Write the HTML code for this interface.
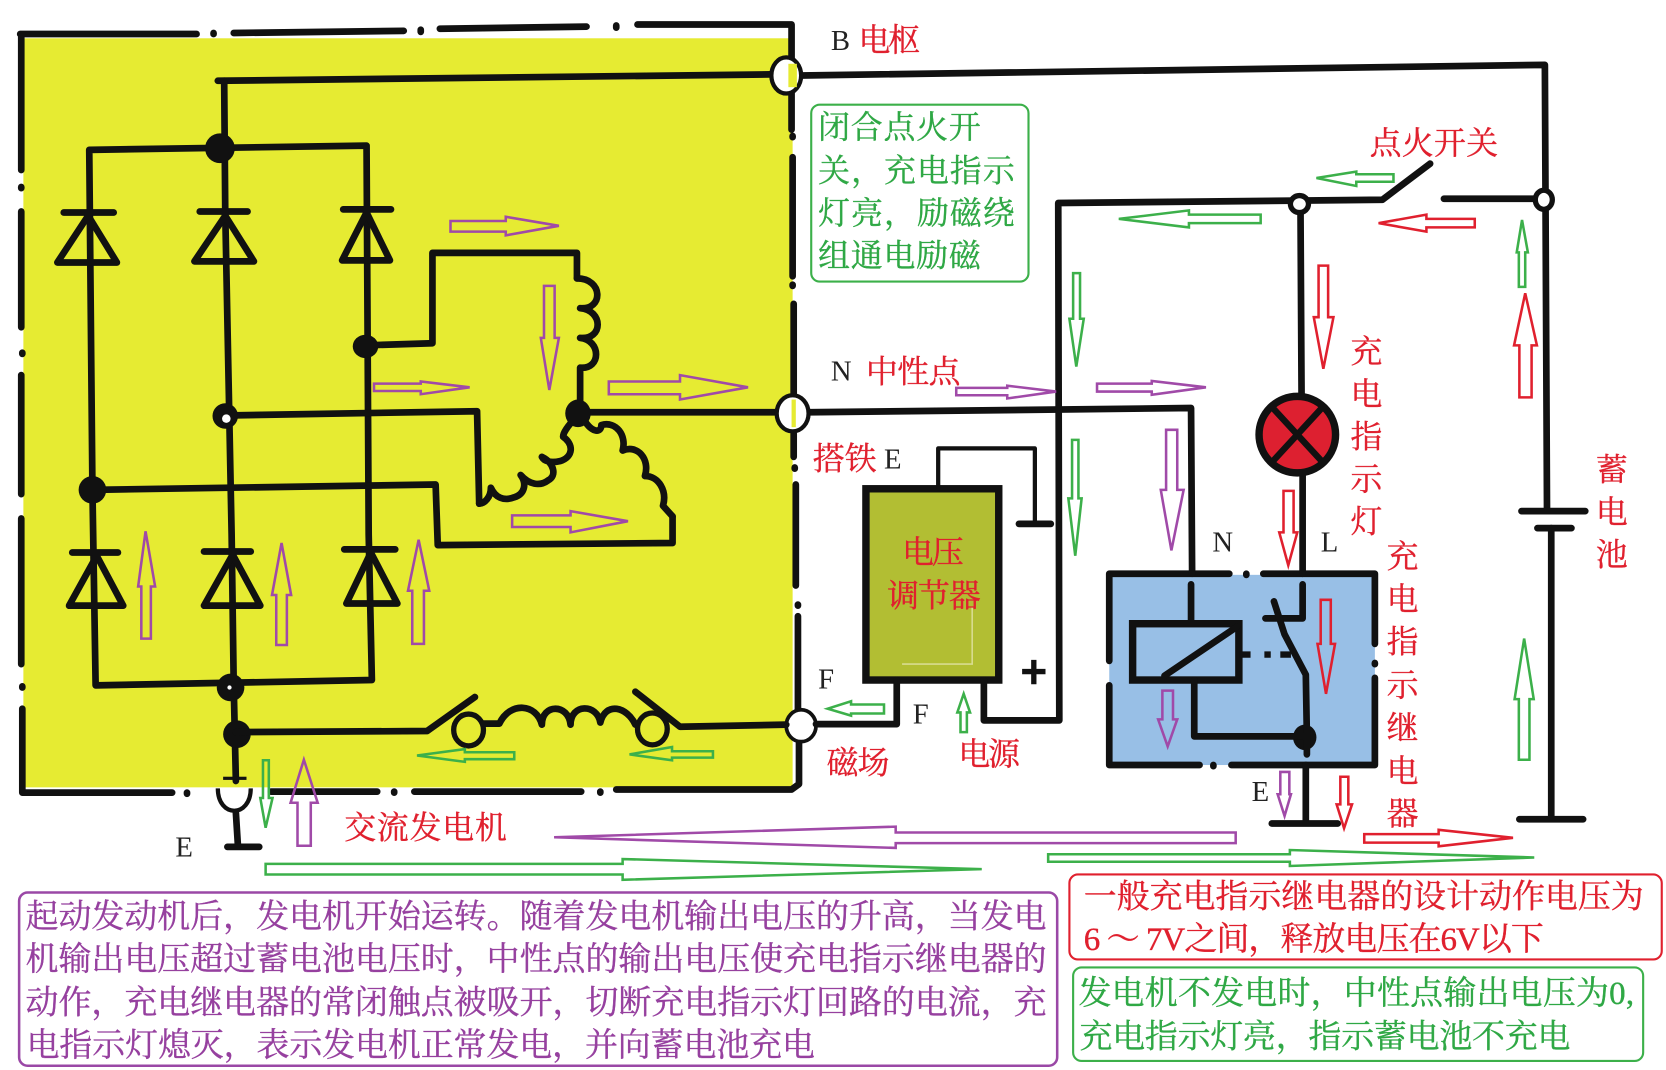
<!DOCTYPE html>
<html><head><meta charset="utf-8"><style>
html,body{margin:0;padding:0;background:#fff}
svg{display:block}
text{font-family:"Liberation Serif","Noto Serif CJK SC",serif}
.r{fill:#e0202e;stroke:#e0202e;stroke-width:.35}.p{fill:#96409f;stroke:#96409f;stroke-width:.35}.g{fill:#2fa845;stroke:#2fa845;stroke-width:.35}.k{fill:#222}
.w{fill:none;stroke:#111;stroke-width:6.3;stroke-linejoin:round;stroke-linecap:round}
.pa{fill:none;stroke:#a04aa8;stroke-width:2.4}
.ga{fill:none;stroke:#3cb04a;stroke-width:2.4}
.ra{fill:none;stroke:#e0202e;stroke-width:2.4}
</style></head><body>
<svg xmlns="http://www.w3.org/2000/svg" width="1666" height="1070" viewBox="0 0 1568 1007">
<rect width="1568" height="1007" fill="#fff"/>
<rect x="22" y="36" width="724" height="705" fill="#e6eb32"/>
<rect x="1044" y="541" width="250" height="179" fill="#98bfe6"/>
<rect x="815" y="460" width="125" height="180" fill="#b2be33"/>
<path d="M915 571V625H849" fill="none" stroke="#d8dc90" stroke-width="1.5"/>

<!-- generator frame -->
<path class="w" d="M19 32H185M201 31V32M220 31L380 29M396 28V30M414 27L552 25M580 24V26M600 23H745V122M746 128V129M746 148V260M746 268V269M747 286V372M747 408V430M748 440V441M749 456V551M751 569V570M751 580V667M752 699V738L745 743H580M565 745V746M547 745H390M371 745V746M355 745H255M176 746V747M162 746H21V667M21 646V647M20 625V503L20 488V489M20 465V353M21 332V333M20 308V199M20 176V177M20 160V32"/>
<!-- relay frame -->
<path class="w" d="M1157 540H1044V622M1044 645V720H1129M1142 720V721M1159 720H1294V638M1294 624V625M1294 606V540H1189M1173 540V541"/>

<!-- rectifier wires -->
<path class="w" d="M205 76L725 70M755 71L1454 61L1456 480M1460 497V770"/>
<path class="w" d="M211 76L212 200L218 503L220 647L222 735"/>
<path class="w" d="M84 141L345 137L347 503L350 640L90 645L87 461L84 141"/>
<path class="w" d="M344 325L407 323V238H543V262"/>
<path class="w" d="M212 391L449 387L451 474"/>
<path class="w" d="M87 461L410 456L412 513L633 511V486"/>
<path class="w" d="M548 388H730M762 388L1121 384L1122 540"/>
<!-- coils -->
<path class="w" d="M543 262C568 262 568 292 546 290C568 292 568 320 546 318C566 320 566 348 546 346L546 388"/>
<path class="w" d="M543 392C533 402 530 408 530 411C540 418 540 430 527 434C518 436 512 434 510 430C522 436 524 448 516 452C508 458 498 456 490 447C496 455 494 465 484 468C474 472 466 468 462 459C462 468 456 474 451 474"/>
<path class="w" d="M548 392C556 408 566 408 566 400C580 396 590 410 586 424C600 418 612 432 607 448C620 448 628 462 624 476L633 486"/>
<!-- diodes -->
<g class="w">
<path d="M60 200H107M83 203L54 247H110Z"/>
<path d="M188 199H233M212 203L183 246H239Z"/>
<path d="M323 197H368M345 200L322 245H367Z"/>
<path d="M68 520H111M91 523L65 570H116Z"/>
<path d="M192 519H236M219 522L192 570H245Z"/>
<path d="M324 517H372M349 520L326 568H374Z"/>
</g>
<!-- nodes -->
<g fill="#111">
<ellipse cx="207" cy="139.5" rx="14" ry="14"/>
<ellipse cx="344" cy="326" rx="12" ry="11"/>
<ellipse cx="212" cy="391.5" rx="12" ry="12"/>
<ellipse cx="87" cy="461" rx="13" ry="13"/>
<ellipse cx="544" cy="389" rx="12" ry="13"/>
<ellipse cx="217" cy="647" rx="13" ry="13"/>
<ellipse cx="223" cy="691" rx="13" ry="13"/>
<ellipse cx="1228" cy="694" rx="11" ry="12"/>
</g>
<circle cx="213" cy="394" r="4" fill="#fff"/>
<circle cx="216" cy="647" r="2" fill="#fff"/>
<!-- terminals -->
<g fill="#fff" stroke="#111" stroke-width="4">
<ellipse cx="740" cy="71" rx="14" ry="17"/>
<ellipse cx="746" cy="389" rx="15" ry="17"/>
<ellipse cx="754" cy="683" rx="14" ry="15" stroke-width="3.5"/>
<path d="M205 742H236C236 770 205 770 205 742Z" stroke="none"/>
<path d="M205 742C205 770 236 770 236 742" fill="none"/>
</g>
<rect x="742" y="60" width="8" height="22" fill="#e6eb32"/>
<rect x="745" y="376" width="4" height="26" fill="#e6eb32"/>
<rect x="210" y="731" width="22" height="3" fill="#111"/>
<!-- E ground -->
<path class="w" d="M222 765L224 797M214 797H244"/>
<!-- field coil -->
<path class="w" d="M222 689L402 688L447 656M598 651L640 684L740 682"/>
<ellipse cx="441" cy="687" rx="14" ry="15" fill="none" stroke="#111" stroke-width="5"/>
<ellipse cx="614" cy="686" rx="14" ry="15" fill="none" stroke="#111" stroke-width="5"/>
<path class="w" d="M455 681H470C480 660 505 662 510 682C510 662 535 662 537 682C537 662 562 662 565 680C570 660 590 665 598 682"/>
<!-- regulator -->
<rect x="815" y="460" width="125" height="180" fill="none" stroke="#111" stroke-width="7"/>
<path class="w" style="stroke-width:4" d="M883 460V422H974V493"/>
<path class="w" d="M959 493H989"/>
<path class="w" d="M844 640V681.5H768"/>
<path class="w" d="M926 640V678H997L996 191L1301 188L1346 154M1359 187H1450"/>
<path d="M962 632H984M973 621V644" fill="none" stroke="#111" stroke-width="5"/>
<!-- lamp wires -->
<path class="w" d="M1224 195L1225 372M1226 445V540"/>
<ellipse cx="1221" cy="409" rx="36" ry="36" fill="#dd2030" stroke="#111" stroke-width="7"/>
<path d="M1198 384L1244 434M1244 384L1198 434" stroke="#111" stroke-width="6"/>
<ellipse cx="1223" cy="192" rx="8.5" ry="8" fill="#fff" stroke="#111" stroke-width="5"/>
<ellipse cx="1453" cy="188" rx="8" ry="9" fill="#fff" stroke="#111" stroke-width="5"/>
<!-- relay internals -->
<path class="w" d="M1121 550V585M1226 550V582H1191"/>
<rect x="1066" y="587" width="100" height="53" fill="none" stroke="#111" stroke-width="7"/>
<path class="w" d="M1096 636L1164 590M1124 640V693H1229M1199 566L1209 597L1229 635L1230 693V710M1229 720V775M1197 775H1259"/>
<path d="M1167 616H1177M1190 616H1196M1205 616H1215" stroke="#111" stroke-width="6"/>
<!-- battery -->
<path class="w" d="M1432 481H1492M1447 497H1479M1430 771H1490"/>

<!-- purple arrows -->
<g class="pa">
<polygon points="424,208 476,208 476,204 526,212.5 476,221.5 476,218 424,218"/>
<polygon points="352,361 396,361 396,359 442,364.5 396,371 396,368 352,368"/>
<polygon points="573,359 640,359 640,353 704,364.5 640,376 640,371 573,371"/>
<polygon points="482,485 537,485 537,481 591,490.5 537,501 537,496 482,496"/>
<polygon points="512,269 522,269 522,318 526,318 517,367 509,318 512,318"/>
<polygon points="133,601 133,552 130,552 137,500 146,552 142,552 142,601"/>
<polygon points="260,607 260,560 256,560 265,511 274,560 270,560 270,607"/>
<polygon points="388,606 388,556 384,556 394,508 404,556 399,556 399,606"/>
<polygon points="900,365 948,365 948,363 994,368.5 948,375 948,372 900,372"/>
<polygon points="1032.5,361 1084,361 1084,358.5 1135,364.5 1084,371.5 1084,368.5 1032.5,368.5"/>
<polygon points="1097.5,404.5 1108,404.5 1108,461 1114,461 1102.5,518 1092.5,461 1097.5,461"/>
<polygon points="1094,650 1104,650 1104,677 1108,677 1099,702.5 1090,677 1094,677"/>
<polygon points="1205,726.5 1213.5,726.5 1213.5,747.5 1215,747.5 1209,768 1202.5,747.5 1205,747.5"/>
<polygon points="280,796 280,755.5 273.5,755.5 286,715 299,755.5 292.5,755.5 292.5,796"/>
<polygon points="1163,783.5 843,783.5 843,778 521.5,788 843,798 843,793.5 1163,793.5"/>
</g>
<!-- green arrows -->
<g class="ga">
<polygon points="1311.5,164 1276.5,164 1276.5,161.5 1239,167.5 1276.5,175 1276.5,171 1311.5,171"/>
<polygon points="1186.5,202 1119,202 1119,198 1053,206 1119,214 1119,210 1186.5,210"/>
<polygon points="1429.5,270 1429.5,237.5 1427.5,237.5 1432.5,207 1438,237.5 1435.5,237.5 1435.5,270"/>
<polygon points="1010,257 1016.5,257 1016.5,300 1020,300 1013,345 1006.5,300 1010,300"/>
<polygon points="1009,414 1015,414 1015,469 1018,469 1012,523 1005.5,469 1009,469"/>
<polygon points="1429.5,715 1429.5,658 1425.5,658 1434.5,601 1443.5,658 1439.5,658 1439.5,715"/>
<polygon points="904,689 904,670.5 901,670.5 907,653 913,670.5 910,670.5 910,689"/>
<polygon points="832,663 801,663 801,660 779,667 801,673.5 801,671.5 832,671.5"/>
<polygon points="986.5,804 1214,804 1214,800 1444,807 1214,815 1214,811 986.5,811"/>
<polygon points="250,813 586,813 586,808.5 924,818 586,828 586,823 250,823"/>
<polygon points="484,708 437.5,708 437.5,705 392.5,711 437.5,717 437.5,714.5 484,714.5"/>
<polygon points="671,707 632.5,707 632.5,703 592.5,710 632.5,715.5 632.5,713 671,713"/>
<polygon points="247.5,715.5 253,715.5 253,751 256.5,751 250,779 245,751 247.5,751"/>
</g>
<!-- red arrows -->
<g class="ra">
<polygon points="1388,206 1342.5,206 1342.5,202 1297.5,210 1342.5,218 1342.5,214 1388,214"/>
<polygon points="1241,250 1250,250 1250,298.5 1255,298.5 1245.5,347 1236.5,298.5 1241,298.5"/>
<polygon points="1208,462 1217.5,462 1217.5,501 1221,501 1212.5,532 1204,501 1208,501"/>
<polygon points="1430,374 1430,325 1425,325 1435.5,276 1446.5,325 1441.5,325 1441.5,374"/>
<polygon points="1243,564.5 1252.5,564.5 1252.5,606 1256.5,606 1248,653 1240,606 1243,606"/>
<polygon points="1261.5,731 1269,731 1269,757 1272.5,757 1265,779.5 1258,757 1261.5,757"/>
<polygon points="1284,785 1354,785 1354,781 1424,788.5 1354,796.5 1354,793 1284,793"/>
</g>

<!-- boxes -->
<rect x="763.5" y="98.5" width="204.5" height="166.5" rx="8" fill="none" stroke="#3cb04a" stroke-width="2"/>
<rect x="18" y="840" width="977" height="163" rx="8" fill="none" stroke="#9a48a6" stroke-width="2.4"/>
<rect x="1006.5" y="823" width="557.5" height="80" rx="8" fill="none" stroke="#e0202e" stroke-width="2"/>
<rect x="1010" y="910.5" width="536.5" height="88" rx="8" fill="none" stroke="#3cb04a" stroke-width="2"/>

<!-- labels -->
<g font-size="30">
<text class="g" x="770" y="130" textLength="153">闭合点火开</text>
<text class="g" x="770" y="171" textLength="185">关，充电指示</text>
<text class="g" x="770" y="211" textLength="185">灯亮，励磁绕</text>
<text class="g" x="770" y="251" textLength="153">组通电励磁</text>

<text class="k" x="782" y="47" font-size="27">B</text>
<text class="r" x="808" y="48" textLength="58">电枢</text>
<text class="r" x="1289" y="145" textLength="121">点火开关</text>
<text class="k" x="782" y="358" font-size="27">N</text>
<text class="r" x="815" y="360" textLength="89">中性点</text>
<text class="r" x="765" y="442" textLength="60">搭铁</text>
<text class="k" x="832" y="441" font-size="27">E</text>
<text class="k" x="770" y="648" font-size="27">F</text>
<text class="k" x="859" y="681" font-size="27">F</text>
<text class="r" x="849" y="530" textLength="58">电压</text>
<text class="r" x="835" y="571" textLength="88">调节器</text>
<text class="r" x="778" y="728" textLength="59">磁场</text>
<text class="r" x="902" y="720" textLength="58">电源</text>
<text class="k" x="1141" y="519" font-size="27">N</text>
<text class="k" x="1243" y="519" font-size="27">L</text>
<text class="k" x="1178" y="754" font-size="27">E</text>
<text class="k" x="165" y="806" font-size="27">E</text>
<text class="r" x="324" y="789" textLength="153">交流发电机</text>

<text class="r" x="1271" y="341">充</text>
<text class="r" x="1271" y="381">电</text>
<text class="r" x="1271" y="421">指</text>
<text class="r" x="1271" y="461">示</text>
<text class="r" x="1271" y="501">灯</text>

<text class="r" x="1305" y="534">充</text>
<text class="r" x="1305" y="574">电</text>
<text class="r" x="1305" y="614">指</text>
<text class="r" x="1305" y="655">示</text>
<text class="r" x="1305" y="695">继</text>
<text class="r" x="1305" y="736">电</text>
<text class="r" x="1305" y="776">器</text>

<text class="r" x="1502" y="452">蓄</text>
<text class="r" x="1502" y="492">电</text>
<text class="r" x="1502" y="532">池</text>
</g>
<g font-size="31">
<text class="p" x="24" y="873" textLength="961">起动发动机后，发电机开始运转。随着发电机输出电压的升高，当发电</text>
<text class="p" x="24" y="913" textLength="961">机输出电压超过蓄电池电压时，中性点的输出电压使充电指示继电器的</text>
<text class="p" x="24" y="954" textLength="961">动作，充电继电器的常闭触点被吸开，切断充电指示灯回路的电流，充</text>
<text class="p" x="25" y="994" textLength="742">电指示灯熄灭，表示发电机正常发电，并向蓄电池充电</text>
<text class="r" x="1020" y="854" textLength="527">一般充电指示继电器的设计动作电压为</text>
<text class="r" x="1020" y="894" textLength="433">6 ～ 7V之间，释放电压在6V以下</text>
<text class="g" x="1015" y="945" textLength="523">发电机不发电时，中性点输出电压为0,</text>
<text class="g" x="1016" y="986" textLength="462">充电指示灯亮，指示蓄电池不充电</text>
</g>
</svg>
</body></html>
